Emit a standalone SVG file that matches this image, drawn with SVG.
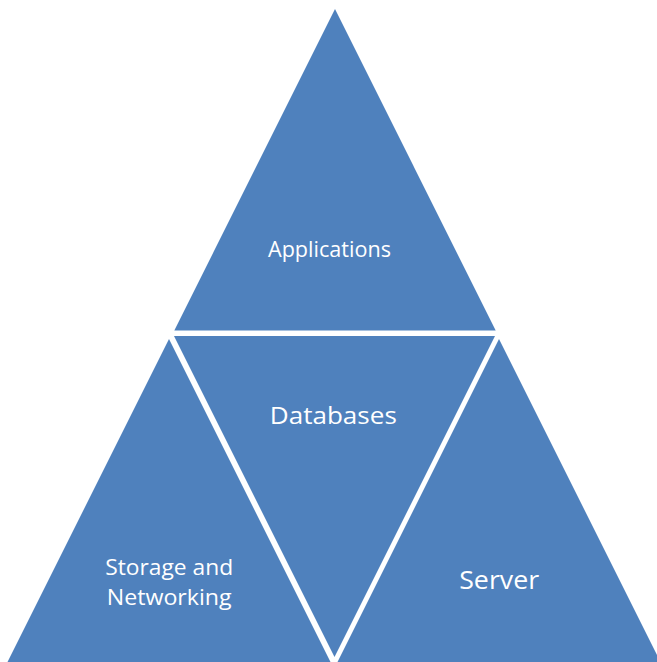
<svg xmlns="http://www.w3.org/2000/svg" width="657" height="662" viewBox="0 0 657 662">
<style>
.tri{fill:#4F81BD;stroke:none}
.lbl{fill:#FFFFFF;font-family:"Open Sans","Noto Sans","Liberation Sans",sans-serif;text-anchor:middle}
</style>
<rect width="657" height="662" fill="#FFFFFF"/>
<g id="applications">
<polygon class="tri" points="335,9 495.7,330.5 174.3,330.5"/>
<text class="lbl" x="329.5" y="257" font-size="21" textLength="123" lengthAdjust="spacingAndGlyphs">Applications</text>
</g>
<g id="databases">
<polygon class="tri" points="174,336 495,336 334.5,657"/>
<text class="lbl" x="333.3" y="424.3" font-size="24.5" textLength="127" lengthAdjust="spacingAndGlyphs">Databases</text>
</g>
<g id="storage">
<polygon class="tri" points="169,339 330.5,662 7.5,662"/>
<text class="lbl" x="169.2" y="575" font-size="21" textLength="128" lengthAdjust="spacingAndGlyphs">Storage and</text>
<text class="lbl" x="169.2" y="605" font-size="21" textLength="125" lengthAdjust="spacingAndGlyphs">Networking</text>
</g>
<g id="server">
<polygon class="tri" points="499,339 660.5,662 337.5,662"/>
<text class="lbl" x="499.2" y="589.3" font-size="25" textLength="80" lengthAdjust="spacingAndGlyphs">Server</text>
</g>
<g id="connectors"></g>
</svg>
